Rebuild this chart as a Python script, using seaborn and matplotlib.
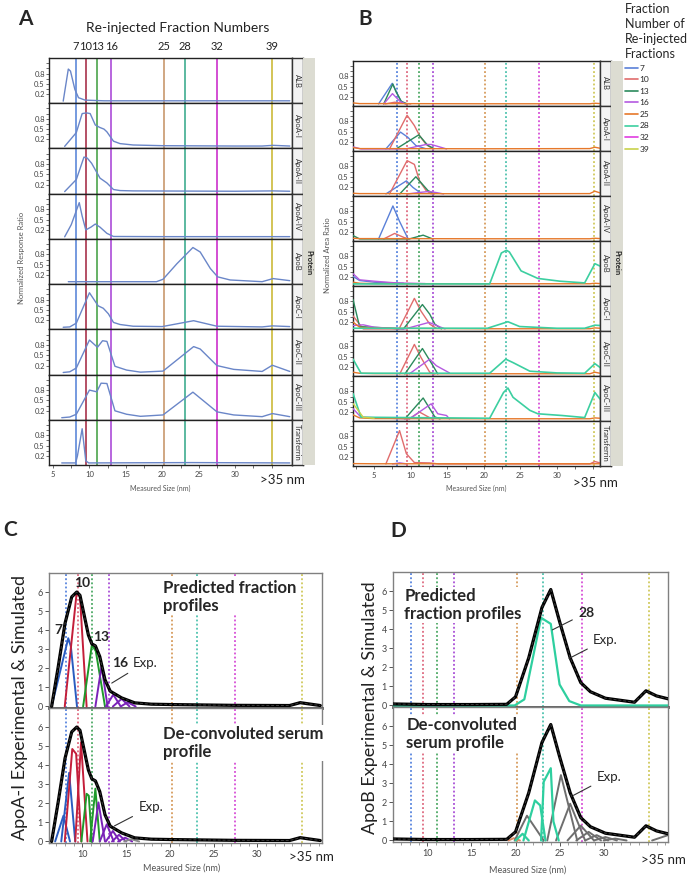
import numpy as np
import matplotlib
matplotlib.use("Agg")
import matplotlib.pyplot as plt
import matplotlib.transforms as mtrans
from matplotlib.lines import Line2D
import seaborn as sns

# =========================================
# DATA
# =========================================

PROTEINS = ["ALB", "ApoA-I", "ApoA-II", "ApoA-IV", "ApoB",
            "ApoC-I", "ApoC-II", "ApoC-III", "Transferrin"]

FRACTIONS = [7, 10, 13, 16, 25, 28, 32, 39]
FRACTION_SIZE = [8.1, 9.5, 11.1, 13.0, 20.2, 23.1, 27.5, 35.1]

# panel A: measured size (nm) and normalized response ratio
a_size = {
    "ALB": [6.4, 7.1, 7.4, 8.0, 8.5, 9.4, 12.0, 37.5],
    "ApoA-I": [6.6, 8.2, 9.0, 9.6, 10.1, 10.8, 11.4, 12.0, 12.4, 13.3, 14.2, 16.0, 20.0, 30.0, 33.7, 35.2, 37.5],
    "ApoA-II": [6.6, 8.2, 9.25, 9.7, 10.3, 11.45, 12.4, 13.3, 14.2, 16.0, 30.0, 35.2, 37.5],
    "ApoA-IV": [6.6, 7.5, 8.6, 9.0, 9.5, 10.2, 10.8, 11.45, 12.4, 13.3, 20.0, 37.5],
    "ApoB": [7.1, 19.2, 20.1, 22.0, 24.2, 25.2, 26.6, 27.6, 29.3, 33.7, 35.2, 37.5],
    "ApoC-I": [6.4, 7.3, 8.2, 10.0, 11.2, 11.9, 12.6, 13.3, 14.2, 16.0, 20.0, 24.3, 27.5, 33.7, 35.1, 37.5],
    "ApoC-II": [6.4, 7.3, 8.2, 10.0, 11.1, 11.8, 12.4, 13.5, 15.1, 17.0, 20.1, 24.3, 25.2, 27.5, 29.8, 33.7, 35.1, 37.5],
    "ApoC-III": [6.2, 7.3, 8.2, 10.0, 11.0, 11.6, 12.4, 13.5, 15.1, 17.0, 20.1, 24.2, 27.5, 29.8, 33.7, 35.1, 37.5],
    "Transferrin": [6.2, 8.1, 8.35, 9.0, 9.5, 9.9, 24.0, 37.5],
}
a_ratio = {
    "ALB": [0, 0.93, 0.87, 0.34, 0.1, 0.03, 0.01, 0.01],
    "ApoA-I": [0, 0.4, 0.95, 0.97, 0.95, 0.62, 0.55, 0.5, 0.42, 0.15, 0.08, 0.04, 0.02, 0.01, 0.01, 0.03, 0.01],
    "ApoA-II": [0, 0.35, 1.0, 0.97, 0.82, 0.39, 0.25, 0.06, 0.03, 0.02, 0.01, 0.02, 0.01],
    "ApoA-IV": [0, 0.35, 0.99, 0.6, 0.2, 0.28, 0.37, 0.28, 0.1, 0.01, 0.005, 0.005],
    "ApoB": [0.01, 0.01, 0.08, 0.53, 1.0, 0.87, 0.39, 0.15, 0.06, 0.01, 0.1, 0.04],
    "ApoC-I": [0, 0.01, 0.12, 1.0, 0.62, 0.55, 0.39, 0.14, 0.08, 0.03, 0.02, 0.19, 0.03, 0.01, 0.04, 0.02],
    "ApoC-II": [0, 0.02, 0.13, 0.94, 0.73, 0.92, 0.9, 0.18, 0.07, 0.01, 0.04, 0.75, 0.68, 0.2, 0.09, 0.03, 0.21, 0.03],
    "ApoC-III": [0, 0.02, 0.1, 0.8, 0.75, 1.0, 0.99, 0.2, 0.1, 0.04, 0.08, 0.74, 0.17, 0.08, 0.03, 0.12, 0.03],
    "Transferrin": [0, 0, 0.2, 0.99, 0.06, 0.0, 0.01, 0.0],
}

# panel B: normalized area ratio per re-injected fraction, (size, value)
b_alb = {
    7: ([5.6, 7.47, 8.7, 9.3], [0, 0.6, 0.06, 0]),
    10: ([6.5, 7.8, 9.0, 10.0], [0, 0.05, 0.02, 0]),
    13: ([6.3, 7.55, 8.0, 8.7, 9.5], [0, 0.58, 0.35, 0.08, 0]),
    16: ([6.3, 7.5, 8.5, 9.3], [0, 0.3, 0.08, 0]),
    25: ([2.1, 3.0, 5.0, 20.0, 34.5, 35.2, 35.9], [0.03, 0.01, 0.01, 0.005, 0.005, 0.02, 0.01]),
}
b_apoa1 = {
    7: ([6.6, 8.6, 9.6, 10.7, 12.0], [0, 0.49, 0.34, 0.1, 0.01]),
    10: ([7.1, 9.5, 10.5, 11.2, 12.1, 13.0], [0, 0.98, 0.68, 0.39, 0.13, 0.01]),
    13: ([8.0, 11.1, 12.35, 13.2], [0, 0.41, 0.1, 0.01]),
    16: ([2.1, 3.2, 9.3, 12.1, 12.8, 14.9], [0.06, 0.0, 0, 0.13, 0.13, 0]),
    25: ([2.1, 3.0, 5.0, 20.0, 34.5, 35.2, 35.9], [0.04, 0.01, 0.01, 0.005, 0.01, 0.05, 0.02]),
}
b_apoa2 = {
    7: ([6.6, 9.4, 10.3, 11.4], [0, 0.38, 0.19, 0.02]),
    10: ([7.1, 9.5, 10.5, 11.2, 12.1, 12.8], [0, 0.97, 0.86, 0.38, 0.1, 0]),
    13: ([8.5, 10.7, 12.35, 13.2], [0, 0.5, 0.1, 0]),
    16: ([9.6, 11.5, 12.5, 13.5, 14.5], [0, 0.05, 0.07, 0.04, 0]),
    25: ([2.1, 3.0, 5.0, 20.0, 34.5, 35.2, 35.9], [0.02, 0.01, 0.01, 0.005, 0.01, 0.08, 0.03]),
}
b_apoa4 = {
    7: ([5.6, 7.56, 8.47, 9.6], [0, 0.96, 0.51, 0.02]),
    10: ([6.3, 7.8, 9.1, 9.8], [0, 0.16, 0.04, 0]),
    13: ([2.1, 3.0, 9.8, 11.7, 13.0], [0.1, 0.0, 0.0, 0.11, 0.0]),
    25: ([2.1, 3.0, 5.0, 20.0, 34.5, 35.2, 35.9], [0.02, 0.01, 0.01, 0.005, 0.005, 0.02, 0.01]),
}
b_apob = {
    7: ([2.1, 3.0, 5.0, 9.0], [0.22, 0.1, 0.05, 0.02]),
    16: ([2.1, 3.0, 5.0, 8.0, 12.0], [0.3, 0.12, 0.08, 0.03, 0.01]),
    25: ([2.1, 3.0, 5.0, 20.0, 34.5, 35.2, 35.9], [0.05, 0.02, 0.01, 0.005, 0.005, 0.02, 0.01]),
    28: ([2.1, 20.8, 22.4, 23.1, 23.5, 25.1, 27.4, 30.4, 33.8, 35.2, 35.9],
         [0, 0, 0.9, 0.98, 0.93, 0.38, 0.16, 0.08, 0.03, 0.59, 0.52]),
}
b_apoc1 = {
    10: ([2.1, 3.5, 8.4, 10.5, 11.4, 12.6, 13.5], [0.38, 0.0, 0, 0.89, 0.52, 0.14, 0.02]),
    13: ([2.1, 3.0, 9.0, 11.6, 12.6, 13.3, 14.2], [0.86, 0.07, 0.0, 0.71, 0.43, 0.14, 0.0]),
    16: ([2.1, 3.5, 5.0, 9.2, 12.5, 14.7], [0.1, 0.12, 0.05, 0, 0.19, 0]),
    25: ([2.1, 3.0, 5.0, 20.0, 34.5, 35.2, 35.9], [0.2, 0.05, 0.02, 0.005, 0.005, 0.03, 0.02]),
    28: ([2.1, 20.5, 23.3, 24.9, 30.0, 33.8, 35.2, 35.9], [0.02, 0.02, 0.21, 0.07, 0.02, 0.02, 0.11, 0.1]),
}
b_apoc2 = {
    10: ([8.5, 10.5, 11.4, 12.6, 13.3], [0, 0.86, 0.48, 0.05, 0]),
    13: ([9.2, 11.6, 12.9, 13.7], [0, 0.74, 0.29, 0]),
    16: ([9.8, 12.6, 13.5, 15.3], [0, 0.43, 0.24, 0.03]),
    25: ([2.1, 3.0, 5.0, 20.0, 34.5, 35.2, 35.9], [0.05, 0.02, 0.01, 0.005, 0.005, 0.05, 0.02]),
    28: ([2.1, 3.2, 20.8, 23.0, 24.0, 26.3, 30.0, 33.8, 35.2, 35.9],
         [0.43, 0.02, 0.02, 0.43, 0.33, 0.08, 0.03, 0.02, 0.3, 0.19]),
}
b_apoc3 = {
    10: ([9.8, 11.2, 12.9], [0, 0.2, 0]),
    13: ([9.2, 11.7, 13.3, 14.0], [0, 0.61, 0.06, 0]),
    16: ([2.1, 3.2, 9.8, 12.8, 13.7, 14.9, 15.3], [0.3, 0.05, 0, 0.44, 0.15, 0.1, 0]),
    25: ([2.1, 3.0, 5.0, 20.0, 34.5, 35.2, 35.9], [0.12, 0.03, 0.01, 0.005, 0.005, 0.03, 0.02]),
    28: ([2.1, 3.2, 20.8, 22.7, 23.3, 24.0, 26.3, 27.4, 30.7, 33.8, 35.2, 35.9],
         [0.74, 0.05, 0.02, 0.77, 0.9, 0.63, 0.25, 0.15, 0.1, 0.04, 0.77, 0.58]),
    39: ([2.1, 3.5, 5.0], [0.45, 0.05, 0.02]),
}
b_transferrin = {
    10: ([6.6, 8.47, 9.4, 10.5, 12.6, 13.8, 34.5, 35.2, 35.9], [0, 0.97, 0.3, 0.04, 0.03, 0, 0, 0.07, 0.03]),
    16: ([7.5, 8.5, 9.5], [0, 0.03, 0]),
    25: ([2.1, 5.0, 20.0, 35.9], [0.01, 0.005, 0.005, 0.005]),
}
b_curves = [b_alb, b_apoa1, b_apoa2, b_apoa4, b_apob, b_apoc1, b_apoc2, b_apoc3, b_transferrin]

# panel C: ApoA-I experimental profile and simulated fraction peaks
c_exp_size = [6.5, 7.26, 8.03, 8.8, 9.37, 9.74, 10.1, 10.7, 11.1, 11.5, 12.0, 12.6, 13.2,
              14.5, 16.0, 17.9, 20.3, 27.3, 33.7, 34.9, 37.2]
c_exp_value = [0, 2.1, 4.36, 5.75, 6.0, 5.83, 5.05, 3.75, 3.28, 3.18, 2.62, 1.4, 0.8,
               0.45, 0.19, 0.12, 0.1, 0.06, 0.05, 0.2, 0.05]

c_pred_blue = [([6.5, 8.4, 8.7, 9.4], [0, 3.58, 3.14, 0])]
c_pred_red = [([8.0, 9.37, 9.74, 10.5], [0, 6.0, 5.75, 0])]
c_pred_green = [([10.1, 11.1, 11.55, 12.6], [0, 3.23, 2.9, 0])]
c_pred_purple = [([11.5, 12.2, 12.9], [0, 2.1, 0]), ([12.7, 13.55, 14.4], [0, 0.62, 0]),
                 ([13.5, 14.5, 15.4], [0, 0.4, 0]), ([14.4, 15.2, 16.1], [0, 0.22, 0])]

c_deconv_blue = [([6.9, 7.85, 8.6], [0, 1.35, 0]), ([7.6, 8.5, 9.2], [0, 3.6, 0])]
c_deconv_red = [([8.0, 8.86, 9.3, 9.9], [0, 4.85, 4.6, 0]), ([9.2, 9.86, 10.6], [0, 5.2, 0])]
c_deconv_green = [([9.9, 10.5, 10.75, 11.1], [0, 2.5, 2.4, 0]), ([10.9, 11.5, 12.0], [0, 2.77, 0])]
c_deconv_purple = [([11.2, 11.85, 12.6], [0, 2.05, 0]), ([12.0, 12.8, 13.6], [0, 0.9, 0]),
                   ([12.7, 13.5, 14.3], [0, 0.55, 0]), ([13.4, 14.2, 15.0], [0, 0.35, 0]),
                   ([14.1, 14.9, 15.7], [0, 0.2, 0])]
c_deconv_gray = [([14.8, 15.6, 16.5], [0, 0.12, 0])]

# panel D: ApoB experimental profile and simulated fraction peaks
d_exp_size = [6.1, 10.0, 15.0, 19.0, 20.0, 21.5, 23.0, 24.0, 25.0, 26.2, 27.4, 28.5, 30.2,
              33.5, 34.8, 36.0, 37.3]
d_exp_value = [0.08, 0.05, 0.05, 0.06, 0.45, 2.5, 5.14, 6.08, 4.4, 2.5, 1.2, 0.72, 0.38,
               0.17, 0.77, 0.5, 0.35]

d_pred_teal = [([6.1, 19.9, 21.0, 22.9, 24.0, 25.0, 26.1, 27.4, 37.3],
                [0, 0, 0.32, 4.6, 4.28, 1.1, 0.23, 0, 0])]
d_deconv_orange = [([19.2, 19.8, 20.5], [0, 0.12, 0])]
d_deconv_teal = [([20.0, 20.8, 21.5], [0, 0.35, 0]), ([20.9, 22.2, 22.8, 23.4], [0, 2.1, 1.84, 0]),
                 ([22.9, 23.2, 24.0, 24.3, 24.9], [0, 3.08, 3.79, 1.0, 0])]
d_deconv_gray = [([19.9, 21.3, 23.2], [0, 1.3, 0]), ([23.6, 25.15, 27.0], [0, 3.43, 0]),
                 ([24.6, 26.2, 27.9], [0, 1.93, 0]), ([25.9, 27.4, 28.9], [0, 0.78, 0]),
                 ([26.9, 28.3, 29.7], [0, 0.45, 0]), ([27.9, 29.2, 30.5], [0, 0.28, 0]),
                 ([28.9, 30.2, 31.5], [0, 0.18, 0]), ([30.0, 31.3, 32.6], [0, 0.1, 0]),
                 ([35.5, 37.3], [0, 0.28])]

# =========================================
# STYLE
# =========================================

A_VLINE_COLORS = ["#4f7fd6", "#a0203c", "#3c9c3c", "#a43cd4", "#c49060", "#2fa586", "#c81ec8", "#c8b428"]
B_COLORS = ["#5a80d8", "#e06c6c", "#2b8a5c", "#b45ae0", "#e6782a", "#3ccfa0", "#e03ce0", "#c8d24a"]
DOT_COLORS = ["#3a6fd8", "#d8506a", "#2e9a4a", "#9a30d0", "#d08a40", "#30b8a0", "#d030d0", "#c8c040"]

sns.set_theme(style="white")
plt.rcParams['font.family'] = ['Lato', 'DejaVu Sans']

W, H = 692, 875
fig = plt.figure(figsize=(W / 100, H / 100), dpi=100)


def box(x0, y0, x1, y1):
    # pixel box (top-left origin) -> figure fraction
    return [x0 / W, 1 - y1 / H, (x1 - x0) / W, (y1 - y0) / H]


def line(ax, xs, ys, color, lw=1.0, ls="-", z=3):
    sns.lineplot(x=xs, y=ys, ax=ax, color=color, lw=lw, linestyle=ls,
                 estimator=None, sort=False, zorder=z)


def style_row(ax, xlim, bottom):
    ax.set_yticks([0.2, 0.5, 0.8])
    ax.set_yticklabels(["0.2", "0.5", "0.8"])
    ax.set_yticks([0.35, 0.65, 0.95, 1.1], minor=True)
    ax.tick_params(axis="y", which="both", left=True, length=2, width=0.6,
                   labelsize=5.5, pad=1, color="#555", labelcolor="#444")
    if bottom:
        ax.set_xticks([5, 10, 15, 20, 25, 30])
        ax.set_xticks(np.arange(2.5, 36, 2.5), minor=True)
        ax.tick_params(axis="x", which="both", bottom=True, length=2, width=0.6,
                       labelsize=5.5, pad=2, color="#555", labelcolor="#444")
    else:
        ax.set_xticks([])
    ax.set_xlim(*xlim)
    ax.set_ylim(-0.06, 1.25)
    for s in ax.spines.values():
        s.set_color("#222")
        s.set_linewidth(1.0)
    ax.set_xlabel("")
    ax.set_ylabel("")


def strip(x0, y0, x1, y1, label):
    sax = fig.add_axes(box(x0, y0, x1, y1))
    sax.set_facecolor("#f3f3f3")
    sax.set_xticks([])
    sax.set_yticks([])
    for s in sax.spines.values():
        s.set_color("#333")
        s.set_linewidth(1.0)
    sax.text(0.5, 0.5, label, rotation=270, ha="center", va="center",
             fontsize=5.5, color="#333", transform=sax.transAxes)


def side_bar(x0, y0, x1, y1, text_y):
    gax = fig.add_axes(box(x0, y0, x1, y1))
    gax.set_facecolor("#dcdcd2")
    gax.set_xticks([])
    gax.set_yticks([])
    for s in gax.spines.values():
        s.set_visible(False)
    fig.text((x0 + x1) / 2 / W, 1 - text_y / H, "Protein", rotation=270,
             ha="center", va="center", fontsize=5.5, fontweight="bold", color="#222")


# =========================================
# PANEL A
# =========================================

a_top, a_bot = 58, 465
a_h = (a_bot - a_top) / 9
for i, prot in enumerate(PROTEINS):
    y0 = a_top + i * a_h
    ax = fig.add_axes(box(49, y0, 292, y0 + a_h))
    for s, c in zip(FRACTION_SIZE, A_VLINE_COLORS):
        ax.axvline(s, color=c, lw=1.1, zorder=1)
    line(ax, a_size[prot], a_ratio[prot], "#6a86c8", lw=1.0)
    style_row(ax, (4.45, 37.8), i == 8)
    strip(292, y0, 303, y0 + a_h, prot)
    if i == 0:
        tr = mtrans.blended_transform_factory(ax.transData, fig.transFigure)
        for s, f in zip(FRACTION_SIZE, FRACTIONS):
            ax.text(s, 1 - 47 / H, str(f), transform=tr, ha="center", va="center",
                    fontsize=8, color="#222")
side_bar(303, a_top, 315, a_bot, 263)

fig.text(178 / W, 1 - 28 / H, "Re-injected Fraction Numbers", ha="center", va="center",
         fontsize=10, color="#222")
fig.text(22 / W, 1 - 258 / H, "Normalized Response Ratio", rotation=90, ha="center",
         va="center", fontsize=5.5, color="#555")
fig.text(160 / W, 1 - 488 / H, "Measured Size (nm)", ha="center", va="center",
         fontsize=5, color="#555")
fig.text(282 / W, 1 - 480 / H, ">35 nm", ha="center", va="center", fontsize=9.5, color="#222")
fig.text(25 / W, 1 - 19 / H, "A", ha="center", va="center", fontsize=15, fontweight="bold")

# =========================================
# PANEL B
# =========================================

b_top, b_bot = 61, 466
b_h = (b_bot - b_top) / 9
for i, prot in enumerate(PROTEINS):
    y0 = b_top + i * b_h
    ax = fig.add_axes(box(353, y0, 600, y0 + b_h))
    for s, c in zip(FRACTION_SIZE, DOT_COLORS):
        ax.axvline(s, color=c, lw=1.1, ls=(0, (1.2, 1.5)), zorder=1)
    curves = b_curves[i]
    for f, c in zip(FRACTIONS, B_COLORS):
        if f in curves:
            xs, ys = curves[f]
            line(ax, xs, ys, c, lw=1.2 if f == 28 else 1.0)
    style_row(ax, (2.1, 35.9), i == 8)
    strip(600, y0, 611, y0 + b_h, prot)
side_bar(611, b_top, 623, b_bot, 263)

fig.text(328 / W, 1 - 255 / H, "Normalized Area Ratio", rotation=90, ha="center",
         va="center", fontsize=5.5, color="#555")
fig.text(476 / W, 1 - 488 / H, "Measured Size (nm)", ha="center", va="center",
         fontsize=5, color="#555")
fig.text(595 / W, 1 - 483 / H, ">35 nm", ha="center", va="center", fontsize=9.5, color="#222")
fig.text(365 / W, 1 - 19 / H, "B", ha="center", va="center", fontsize=15, fontweight="bold")

handles = [Line2D([0], [0], color=c, lw=1.2) for c in B_COLORS]
leg = fig.legend(handles, [str(f) for f in FRACTIONS], loc="upper left",
                 bbox_to_anchor=(620 / W, 1 + 2 / H), frameon=False, fontsize=6,
                 title="Fraction\nNumber of\nRe-injected\nFractions", title_fontsize=9,
                 handlelength=1.5, handletextpad=0.2, labelspacing=0.55,
                 borderpad=0.1, alignment="left")
leg.get_title().set_linespacing(1.3)

# =========================================
# PANELS C / D
# =========================================


def style_cd(ax, xlim, bottom, top_panel):
    ax.set_yticks(range(7))
    ax.tick_params(axis="y", left=True, length=3, width=0.7, labelsize=6.5, pad=1.5,
                   color="#555", labelcolor="#444")
    if bottom:
        ax.set_xticks([10, 15, 20, 25, 30])
        ax.set_xticks(np.arange(7, 38, 1), minor=True)
        ax.tick_params(axis="x", which="major", bottom=True, length=3, width=0.7,
                       labelsize=6.5, pad=2, color="#555", labelcolor="#444")
        ax.tick_params(axis="x", which="minor", bottom=True, length=2, width=0.5, color="#777")
    else:
        ax.set_xticks([])
    ax.set_xlim(*xlim)
    ax.set_ylim(-0.08, 7.0)
    for s in ax.spines.values():
        s.set_color("#808080")
        s.set_linewidth(1.0)
    if top_panel:
        ax.spines["bottom"].set_color("#555")
        ax.spines["bottom"].set_linewidth(2.0)
    ax.set_xlabel("")
    ax.set_ylabel("")


def dotted(ax):
    for s, c in zip(FRACTION_SIZE, DOT_COLORS):
        ax.axvline(s, color=c, lw=1.1, ls=(0, (1.2, 1.5)), zorder=1)


def peaks(ax, groups, color, lw=1.4):
    for xs, ys in groups:
        line(ax, xs, ys, color, lw=lw)


def exp_line(ax, xs, ys):
    line(ax, xs, ys, "black", lw=2.3, z=5)
    line(ax, xs, ys, "#3a3a3a", lw=0.7, ls=(0, (3, 2)), z=6)


bold_box = dict(facecolor="white", edgecolor="none", pad=1.0)
ptr = dict(arrowstyle="-", color="#333", lw=0.8)

# C upper
ax = fig.add_axes(box(49, 573, 322, 708))
dotted(ax)
peaks(ax, c_pred_blue, "#2a5cc0")
peaks(ax, c_pred_red, "#c41e3a")
peaks(ax, c_pred_green, "#1e9a2a")
peaks(ax, c_pred_purple, "#7a22b8")
exp_line(ax, c_exp_size, c_exp_value)
style_cd(ax, (6.2, 37.4), False, True)
ax.text(19.2, 6.65, "Predicted fraction\nprofiles", ha="left", va="top", fontsize=12,
        fontweight="bold", linespacing=1.15, bbox=bold_box, zorder=7)
ax.text(7.25, 4.0, "7", ha="center", va="center", fontsize=10, fontweight="bold", zorder=7)
ax.text(10.0, 6.45, "10", ha="center", va="center", fontsize=10, fontweight="bold", zorder=7)
ax.text(12.1, 3.65, "13", ha="center", va="center", fontsize=10, fontweight="bold", zorder=7)
ax.text(14.3, 2.3, "16", ha="center", va="center", fontsize=10, fontweight="bold", zorder=7)
ax.annotate("Exp.", xy=(13.1, 1.15), xytext=(15.8, 2.3), ha="left", va="center",
            fontsize=9.5, arrowprops=ptr, zorder=7)

# C lower
ax = fig.add_axes(box(49, 708, 322, 843))
dotted(ax)
peaks(ax, c_deconv_blue, "#2a5cc0")
peaks(ax, c_deconv_red, "#c41e3a")
peaks(ax, c_deconv_green, "#1e9a2a")
peaks(ax, c_deconv_purple, "#7a22b8")
peaks(ax, c_deconv_gray, "#8a8a8a")
exp_line(ax, c_exp_size, c_exp_value)
style_cd(ax, (6.2, 37.4), True, False)
ax.text(19.2, 6.05, "De-convoluted serum\nprofile", ha="left", va="top", fontsize=12,
        fontweight="bold", linespacing=1.15, bbox=bold_box, zorder=7)
ax.annotate("Exp.", xy=(13.4, 0.75), xytext=(16.4, 1.8), ha="left", va="center",
            fontsize=9.5, arrowprops=ptr, zorder=7)

fig.text(20 / W, 1 - 708 / H, "ApoA-I Experimental & Simulated", rotation=90, ha="center",
         va="center", fontsize=13, color="#222")
fig.text(182 / W, 1 - 868 / H, "Measured Size (nm)", ha="center", va="center",
         fontsize=6.5, color="#555")
fig.text(311 / W, 1 - 857 / H, ">35 nm", ha="center", va="center", fontsize=9.5, color="#222")
fig.text(10 / W, 1 - 530 / H, "C", ha="center", va="center", fontsize=15, fontweight="bold")

# D upper
ax = fig.add_axes(box(393, 572, 668, 707))
dotted(ax)
peaks(ax, d_pred_teal, "#2ecf9f", lw=1.6)
exp_line(ax, d_exp_size, d_exp_value)
style_cd(ax, (6.1, 37.3), False, True)
ax.text(7.4, 6.15, "Predicted\nfraction profiles", ha="left", va="top", fontsize=12,
        fontweight="bold", linespacing=1.15, bbox=bold_box, zorder=7)
ax.annotate("28", xy=(23.9, 3.9), xytext=(27.1, 4.85), ha="left", va="center",
            fontsize=10, fontweight="bold", arrowprops=ptr, zorder=7)
ax.annotate("Exp.", xy=(25.8, 2.4), xytext=(28.8, 3.45), ha="left", va="center",
            fontsize=9.5, arrowprops=ptr, zorder=7)

# D lower
ax = fig.add_axes(box(393, 707, 668, 842))
dotted(ax)
peaks(ax, d_deconv_orange, "#e08a60")
peaks(ax, d_deconv_gray, "#6e6e6e")
peaks(ax, d_deconv_teal, "#2ecf9f", lw=1.6)
exp_line(ax, d_exp_size, d_exp_value)
style_cd(ax, (6.1, 37.3), True, False)
ax.text(7.6, 6.45, "De-convoluted\nserum profile", ha="left", va="top", fontsize=12,
        fontweight="bold", linespacing=1.15, bbox=bold_box, zorder=7)
ax.annotate("Exp.", xy=(26.3, 2.3), xytext=(29.2, 3.35), ha="left", va="center",
            fontsize=9.5, arrowprops=ptr, zorder=7)

fig.text(370 / W, 1 - 708 / H, "ApoB Experimental & Simulated", rotation=90, ha="center",
         va="center", fontsize=13, color="#222")
fig.text(528 / W, 1 - 870 / H, "Measured Size (nm)", ha="center", va="center",
         fontsize=6.5, color="#555")
fig.text(663 / W, 1 - 860 / H, ">35 nm", ha="center", va="center", fontsize=9.5, color="#222")
fig.text(398 / W, 1 - 531 / H, "D", ha="center", va="center", fontsize=15, fontweight="bold")

fig.savefig("out.png", dpi=100)
